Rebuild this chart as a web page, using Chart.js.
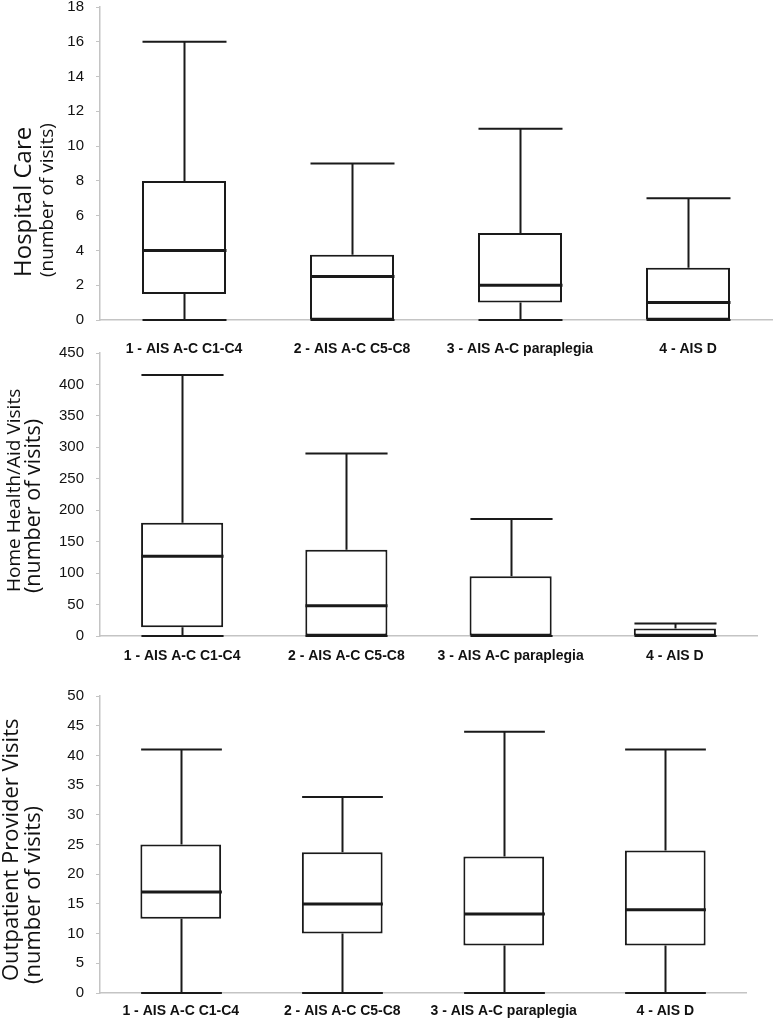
<!DOCTYPE html>
<html>
<head>
<meta charset="utf-8">
<script src="https://cdn.jsdelivr.net/npm/chart.js@4.4.1/dist/chart.umd.min.js"></script>
<style>
    body { margin: 0; background: #fff; width: 780px; height: 1018px; position: relative; overflow: hidden; }
    canvas { position: absolute; left: 0; }
</style>
</head>
<body>
<canvas id="hospitalChart" width="780" height="362" style="top:0px"></canvas>
<canvas id="homeChart" width="780" height="333" style="top:345px"></canvas>
<canvas id="outpatientChart" width="780" height="338" style="top:680px"></canvas>

<script>
// Data
const groups = ['1 - AIS A-C C1-C4', '2 - AIS A-C C5-C8', '3 - AIS A-C paraplegia', '4 - AIS D'];

const hospitalMin = [0, 0, 0, 0];
const hospitalQ1 = [1.5, 0, 1, 0];
const hospitalMedian = [4, 2.5, 2, 1];
const hospitalQ3 = [8, 3.75, 5, 3];
const hospitalMax = [16, 9, 11, 7];
const hospitalTicks = [0, 18, 2]; // min, max, step

const homeMin = [0, 0, 0, 0];
const homeQ1 = [14, 0, 0, 0];
const homeMedian = [127, 48, 0, 0];
const homeQ3 = [180, 137, 95, 12];
const homeMax = [415, 290, 186, 20];
const homeTicks = [0, 450, 50];

const outpatientMin = [0, 0, 0, 0];
const outpatientQ1 = [12.5, 10, 8, 8];
const outpatientMedian = [17, 15, 13.3, 14];
const outpatientQ3 = [25, 23.7, 23, 24];
const outpatientMax = [41, 33, 44, 41];
const outpatientTicks = [0, 50, 5];

const ink = '#1a1a1a';
const axisGrey = '#c4c4c4';

function makeBoxChart(canvasId, stats, ticks, titles, layout) {
    // whiskers, caps and median drawn on top of the floating bars
    var whiskerPlugin = {
        id: 'whiskers',
        afterDatasetsDraw: function (chart) {
            var ctx = chart.ctx;
            var y = chart.scales.y;
            var meta = chart.getDatasetMeta(0);
            ctx.save();
            ctx.strokeStyle = ink;
            meta.data.forEach(function (bar, i) {
                var half = bar.width / 2;
                var x = Math.round(bar.x) + 0.5;
                var yMin = y.getPixelForValue(stats.min[i]);
                var yQ1 = y.getPixelForValue(stats.q1[i]);
                var yMed = y.getPixelForValue(stats.median[i]);
                var yQ3 = y.getPixelForValue(stats.q3[i]);
                var yMax = y.getPixelForValue(stats.max[i]);
                ctx.lineWidth = 2;
                ctx.beginPath();
                ctx.moveTo(x, yQ3); ctx.lineTo(x, yMax);
                ctx.moveTo(x - half, yMax); ctx.lineTo(x + half, yMax);
                if (yMin > yQ1) {
                    ctx.moveTo(x, yQ1); ctx.lineTo(x, yMin);
                }
                ctx.moveTo(x - half, yMin); ctx.lineTo(x + half, yMin);
                ctx.stroke();
                if (stats.median[i] > stats.q1[i]) {
                    ctx.lineWidth = 3;
                    ctx.beginPath();
                    ctx.moveTo(x - half, yMed); ctx.lineTo(x + half, yMed);
                    ctx.stroke();
                }
            });
            ctx.restore();
        }
    };

    // rotated two-line y axis title
    var titlePlugin = {
        id: 'sideTitle',
        afterDraw: function (chart) {
            var ctx = chart.ctx;
            titles.forEach(function (t) {
                ctx.save();
                ctx.translate(t.x, t.y);
                ctx.rotate(-Math.PI / 2);
                ctx.font = t.font;
                ctx.fillStyle = '#111';
                ctx.textAlign = 'left';
                ctx.textBaseline = 'alphabetic';
                ctx.fillText(t.text, 0, 0);
                ctx.restore();
            });
        }
    };

    return new Chart(document.getElementById(canvasId).getContext('2d'), {
        type: 'bar',
        data: {
            labels: groups,
            datasets: [{
                data: groups.map(function (g, i) { return [stats.q1[i], stats.q3[i]]; }),
                backgroundColor: '#ffffff',
                borderColor: ink,
                borderWidth: 2,
                borderSkipped: false,
                barPercentage: 0.5,
                categoryPercentage: 1
            }]
        },
        options: {
            responsive: false,
            animation: false,
            layout: { padding: { top: layout.top, right: layout.right, left: 0, bottom: 0 } },
            plugins: { legend: { display: false }, tooltip: { enabled: false } },
            scales: {
                x: {
                    grid: { display: false, drawTicks: false },
                    border: { display: true, color: axisGrey, width: 1.5 },
                    ticks: {
                        color: '#111',
                        padding: layout.labelPad,
                        maxRotation: 0,
                        autoSkip: false,
                        font: { family: 'Liberation Sans, Arial', size: 14, weight: 'bold' }
                    },
                    afterFit: function (scale) { scale.height = layout.xHeight; }
                },
                y: {
                    min: ticks[0],
                    max: ticks[1],
                    grid: { drawOnChartArea: false, drawTicks: true, tickLength: 4, color: axisGrey },
                    border: { display: true, color: axisGrey, width: 1.5 },
                    ticks: {
                        stepSize: ticks[2],
                        color: '#111',
                        padding: 12,
                        font: { family: 'Liberation Sans, Arial', size: 15 }
                    },
                    afterFit: function (scale) {
                        scale.width = 100;
                        scale.paddingTop = 0;
                        scale.paddingBottom = 0;
                    }
                }
            }
        },
        plugins: [whiskerPlugin, titlePlugin]
    });
}

var hospitalChart = makeBoxChart('hospitalChart',
    { min: hospitalMin, q1: hospitalQ1, median: hospitalMedian, q3: hospitalQ3, max: hospitalMax },
    hospitalTicks,
    [
        { text: 'Hospital Care', font: '24px "Open Sans"', x: 31, y: 277 },
        { text: '(number of visits)', font: '19px "Open Sans"', x: 53, y: 277 }
    ],
    { top: 7, right: 8, xHeight: 42, labelPad: 21 }
);

var homeChart = makeBoxChart('homeChart',
    { min: homeMin, q1: homeQ1, median: homeMedian, q3: homeQ3, max: homeMax },
    homeTicks,
    [
        { text: 'Home Health/Aid Visits', font: '19px "Open Sans"', x: 20, y: 247 },
        { text: '(number of visits)', font: '21.5px "Open Sans"', x: 40, y: 248 }
    ],
    { top: 8, right: 23, xHeight: 42, labelPad: 12 }
);

var outpatientChart = makeBoxChart('outpatientChart',
    { min: outpatientMin, q1: outpatientQ1, median: outpatientMedian, q3: outpatientQ3, max: outpatientMax },
    outpatientTicks,
    [
        { text: 'Outpatient Provider Visits', font: '22px "Open Sans"', x: 18, y: 301 },
        { text: '(number of visits)', font: '22px "Open Sans"', x: 40, y: 304 }
    ],
    { top: 16, right: 34, xHeight: 25, labelPad: 10 }
);
</script>
</body>
</html>
